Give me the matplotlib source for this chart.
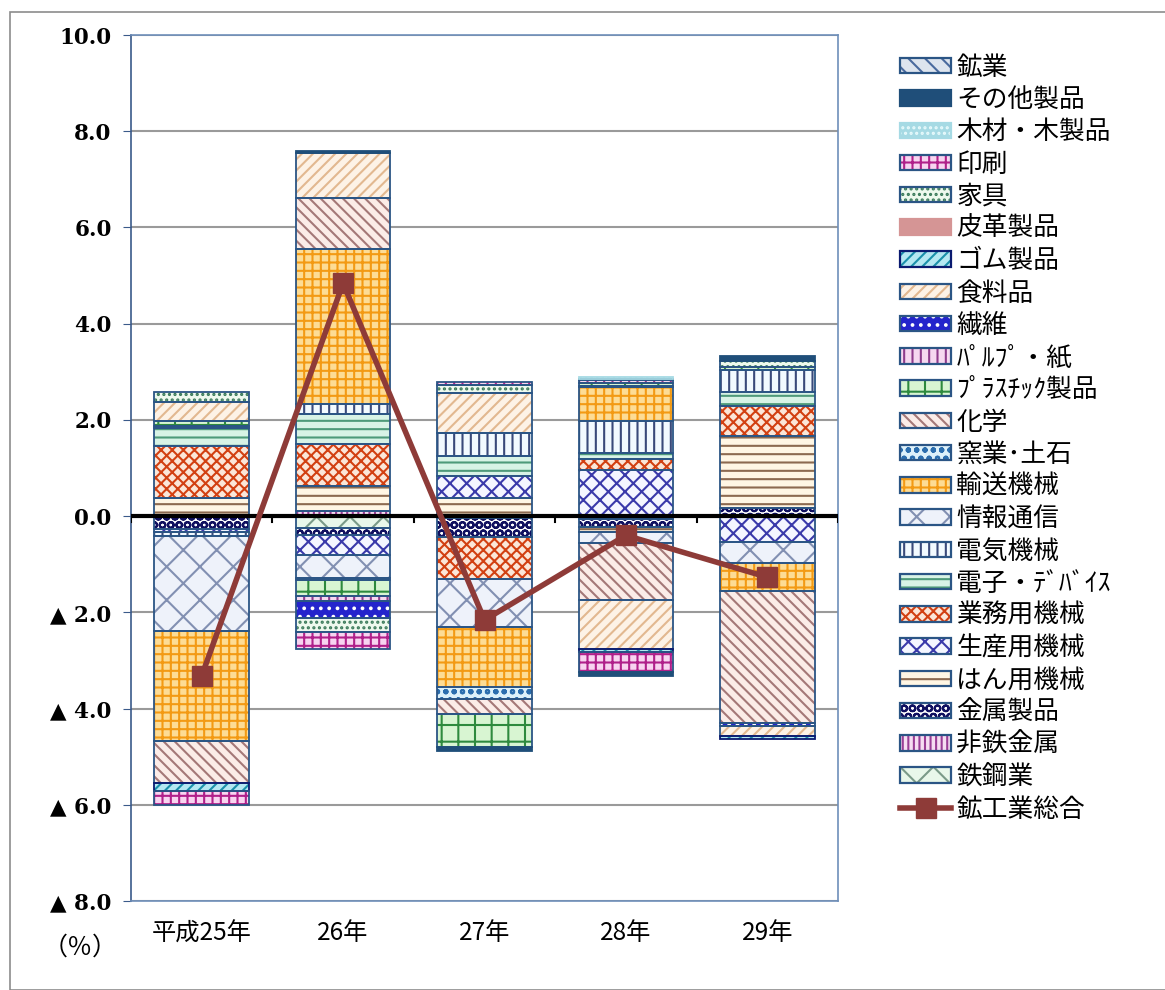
import numpy as np
import matplotlib
matplotlib.use("Agg")
import matplotlib.pyplot as plt
from matplotlib.patches import Patch, Rectangle
from matplotlib.lines import Line2D

plt.rcParams['font.family'] = ['Noto Sans CJK JP', 'DejaVu Sans']
plt.rcParams['hatch.linewidth'] = 1.5

years = ['平成25年', '26年', '27年', '28年', '29年']

# contribution by industry (stack order, from zero outward)
tekko = [0, -0.25, 0, -0.05, 0]
hitetsu = [0, 0.10, -0.04, 0, 0]
kinzoku = [-0.27, -0.15, -0.40, -0.17, 0.17]
hanyo = [0.38, 0.52, 0.38, -0.10, 1.49]
seisan = [-0.07, -0.40, 0.45, 0.95, -0.53]
gyomu = [1.07, 0.87, -0.87, 0.24, 0.62]
denshi = [0.38, 0.64, 0.42, 0.12, 0.31]
denki = [-0.07, 0.19, 0.48, 0.67, 0.45]
joho = [-1.98, -0.48, -0.99, -0.24, -0.45]
yuso = [-2.29, 3.24, -1.26, 0.70, -0.57]
yogyo = [0.05, -0.04, -0.24, 0.03, 0]
kagaku = [-0.87, 1.06, -0.31, -1.18, -2.74]
plastic = [0.10, -0.35, -0.69, 0.06, 0.06]
pulp = [0, -0.09, 0, 0.05, 0]
seni = [0, -0.35, 0, 0, -0.08]
shokuryo = [0.39, 0.92, 0.82, -1.02, -0.20]
gomu = [-0.16, 0, 0, -0.07, -0.07]
hikaku = [0, 0, 0, 0, 0]
kagu = [0.22, -0.30, 0.17, 0.04, 0.12]
insatsu = [-0.29, -0.36, 0.07, -0.42, 0]
mokuzai = [0, 0, 0, 0.03, 0]
sonota = [0, 0.04, -0.08, -0.08, 0.10]
kogyo = [0, 0, 0, 0, 0]

total = [-3.32, 4.84, -2.16, -0.40, -1.27]

ticks = [10, 8, 6, 4, 2, 0, -2, -4, -6, -8]
tick_labels = ['10.0', '8.0', '6.0', '4.0', '2.0', '0.0', '▲ 2.0', '▲ 4.0', '▲ 6.0', '▲ 8.0']

EDGE = '#2B5585'
# name, values, face, hatch, hatch colour, outline
series = [
    ('鉄鋼業', tekko, '#E8F7EA', 'x', '#7A9A88', EDGE),
    ('非鉄金属', hitetsu, '#F6DDF2', '|||', '#9A3E96', EDGE),
    ('金属製品', kinzoku, '#FFFFFF', 'OO', '#101060', EDGE),
    ('はん用機械', hanyo, '#FFF6E4', '--', '#8C6A50', EDGE),
    ('生産用機械', seisan, '#F4F6FF', 'xx', '#3A3AAA', EDGE),
    ('業務用機械', gyomu, '#FBE6D8', 'xxx', '#D24012', EDGE),
    ('電子・ﾃﾞﾊﾞｲｽ', denshi, '#D8F3E6', '--', '#4E9A7A', EDGE),
    ('電気機械', denki, '#F2FAFF', '||', '#3A4A7A', EDGE),
    ('情報通信', joho, '#EEF2FA', 'x', '#8290B2', EDGE),
    ('輸送機械', yuso, '#FDDC95', '++', '#F39A14', EDGE),
    ('窯業･土石', yogyo, '#DDF1FA', 'oo', '#2C6EAE', EDGE),
    ('化学', kagaku, '#FBECE8', '\\\\\\', '#A47878', EDGE),
    ('ﾌﾟﾗｽﾁｯｸ製品', plastic, '#D8F5D2', '+', '#2E8A3E', EDGE),
    ('ﾊﾟﾙﾌﾟ・紙', pulp, '#F6D8F0', '||', '#8E3C8C', EDGE),
    ('繊維', seni, '#2424CC', '..', '#FFFFFF', EDGE),
    ('食料品', shokuryo, '#FDF2E6', '///', '#E2B890', EDGE),
    ('ゴム製品', gomu, '#B4E8F2', '///', '#1A90AA', '#0A1A70'),
    ('皮革製品', hikaku, '#D59595', '', '#D59595', '#D59595'),
    ('家具', kagu, '#EEF9EE', '...', '#3A7A5A', EDGE),
    ('印刷', insatsu, '#F8D4F0', '++', '#B0208A', EDGE),
    ('木材・木製品', mokuzai, '#A6DAE4', '...', '#E8FAFC', '#A6DAE4'),
    ('その他製品', sonota, '#1F4E79', '', '#1F4E79', '#1F4E79'),
    ('鉱業', kogyo, '#DDE4EE', '\\\\', '#4A6A9E', EDGE),
]

fig = plt.figure(figsize=(11.65, 9.9), dpi=100)
fig.patches.append(Rectangle((10 / 1165, 0), 1, 1 - 12 / 990, transform=fig.transFigure,
                             fill=False, edgecolor='#8C8C8C', linewidth=1.2))
ax = fig.add_axes([131 / 1165, 1 - 901 / 990, 707 / 1165, 866 / 990])

x = np.arange(len(years))
width = 0.67
pos_base = np.zeros(len(years))
neg_base = np.zeros(len(years))
handles = []
for name, vals, face, hatch, hc, edge in series:
    v = np.array(vals, dtype=float)
    bottom = np.where(v >= 0, pos_base, neg_base)
    m = v != 0
    if m.any():
        ax.bar(x[m], v[m], width, bottom=bottom[m], color=face, hatch=hatch,
               edgecolor=hc, linewidth=0, zorder=2)
        ax.bar(x[m], v[m], width, bottom=bottom[m], fill=False,
               edgecolor=edge, linewidth=1.3, zorder=3)
    pos_base += np.where(v > 0, v, 0)
    neg_base += np.where(v < 0, v, 0)
    handles.append((Patch(facecolor=face, hatch=hatch, edgecolor=hc, linewidth=0),
                    Patch(fill=False, edgecolor=edge, linewidth=1.6)))

ax.plot(x, total, color='#8E3B38', linewidth=4, marker='s', markersize=14, zorder=5)
handles = handles[::-1]
labels = [s[0] for s in series][::-1]
handles.append(Line2D([], [], color='#8E3B38', linewidth=4, marker='s', markersize=14))
labels.append('鉱工業総合')

ax.axhline(0, color='black', linewidth=3, zorder=4)
for b in np.arange(len(years) + 1) - 0.5:
    ax.plot([b, b], [0, -0.13], color='black', linewidth=1.5, zorder=4)

ax.set_xlim(-0.5, 4.5)
ax.set_ylim(-8, 10)
ax.set_yticks(ticks)
ax.set_yticklabels(tick_labels, family=['DejaVu Serif'], fontweight='bold', fontsize=15.5)
ax.set_xticks(x)
ax.set_xticklabels(years, fontsize=17.5)
ax.tick_params(axis='x', length=0, pad=14)
ax.tick_params(axis='y', length=6, direction='out', color='#3A5A8A', pad=8)
ax.yaxis.grid(True, color='#9A9A9A', linewidth=1.5, zorder=0)
ax.set_axisbelow(True)
for s in ax.spines.values():
    s.set_color('#6E8FBA')
    s.set_linewidth(1.2)
ax.spines['left'].set_color('#3A5A8A')

fig.text(80 / 1165, 1 - 948 / 990, '（％）', fontsize=18, ha='center', va='center')

fig.legend(handles, labels, loc='upper left', bbox_to_anchor=(887 / 1165, 1 - 42 / 990),
           frameon=False, fontsize=18.5, handlelength=2.0, handleheight=0.55,
           handletextpad=0.2, labelspacing=0.243, borderpad=0)

fig.savefig('out.png', dpi=100)
